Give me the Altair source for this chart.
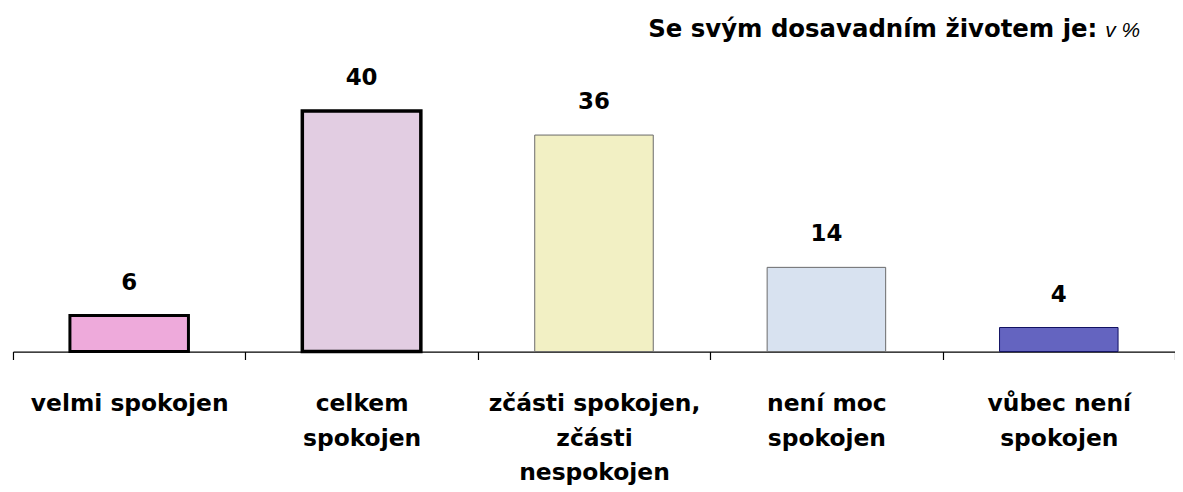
import altair as alt
import pandas as pd

categories = ["velmi spokojen", "celkem|spokojen", "zčásti spokojen,|zčásti|nespokojen",
              "není moc|spokojen", "vůbec není|spokojen"]
values = [6, 40, 36, 14, 4]
fills = ["#eeaadb", "#e2cde2", "#f2f0c4", "#d8e2f0", "#6464c0"]
strokes = ["#000000", "#000000", "#6a6a6a", "#6a6a6a", "#101060"]
stroke_widths = [3, 3.5, 1, 1, 1]

df = pd.DataFrame({"cat": categories, "val": values, "fill": fills,
                   "stroke": strokes, "sw": stroke_widths})

FONT = "DejaVu Sans"

x = alt.X("cat:N", sort=categories, title=None,
          scale=alt.Scale(paddingInner=0, paddingOuter=0),
          axis=alt.Axis(labelExpr="isValid(datum.value) ? split(datum.value, '|') : ''",
                        labelAngle=0, labelLimit=1000,
                        labelFont=FONT, labelFontSize=23.5, labelFontWeight="bold",
                        labelColor="#000000", labelLineHeight=35, labelPadding=32,
                        tickBand="extent", tickSize=8, tickColor="#000000",
                        domainColor="#000000", domainWidth=1.2, tickWidth=1.2,
                        labelBaseline="top", grid=False))
y = alt.Y("val:Q", scale=alt.Scale(domain=[0, 50], nice=False), axis=None)

bars = alt.Chart(df).mark_bar(width=alt.RelativeBandSize(0.51)).encode(
    x=x, y=y,
    fill=alt.Fill("fill:N", scale=None),
    stroke=alt.Stroke("stroke:N", scale=None),
    strokeWidth=alt.StrokeWidth("sw:Q", scale=None),
)

labels = alt.Chart(df).mark_text(font=FONT, fontSize=23, fontWeight="bold",
                                 baseline="middle", dy=-33, color="#000000").encode(
    x=alt.X("cat:N", sort=categories), y="val:Q", text="val:Q")

title_df = pd.DataFrame({"t": ["Se svým dosavadním životem je:"]})
title_main = alt.Chart(title_df).mark_text(font=FONT, fontSize=24.5, fontWeight="bold",
                                           align="right", baseline="alphabetic",
                                           color="#000000").encode(
    x=alt.value(1089), y=alt.value(-14), text="t:N")
unit_df = pd.DataFrame({"t": ["v %"]})
title_unit = alt.Chart(unit_df).mark_text(font="Liberation Sans", fontSize=21,
                                          fontStyle="italic", align="left",
                                          baseline="alphabetic", color="#000000").encode(
    x=alt.value(1097), y=alt.value(-14), text="t:N")

chart = alt.layer(bars, labels, title_main, title_unit).properties(
    width=1167, height=302,
    background="#ffffff",
    autosize=alt.AutoSizeParams(type="none"),
    padding={"left": 5, "top": 42, "right": 0, "bottom": 140},
).configure_view(stroke=None, strokeWidth=0)

chart.save("out.html", embed_options={"renderer": "svg", "actions": False})
